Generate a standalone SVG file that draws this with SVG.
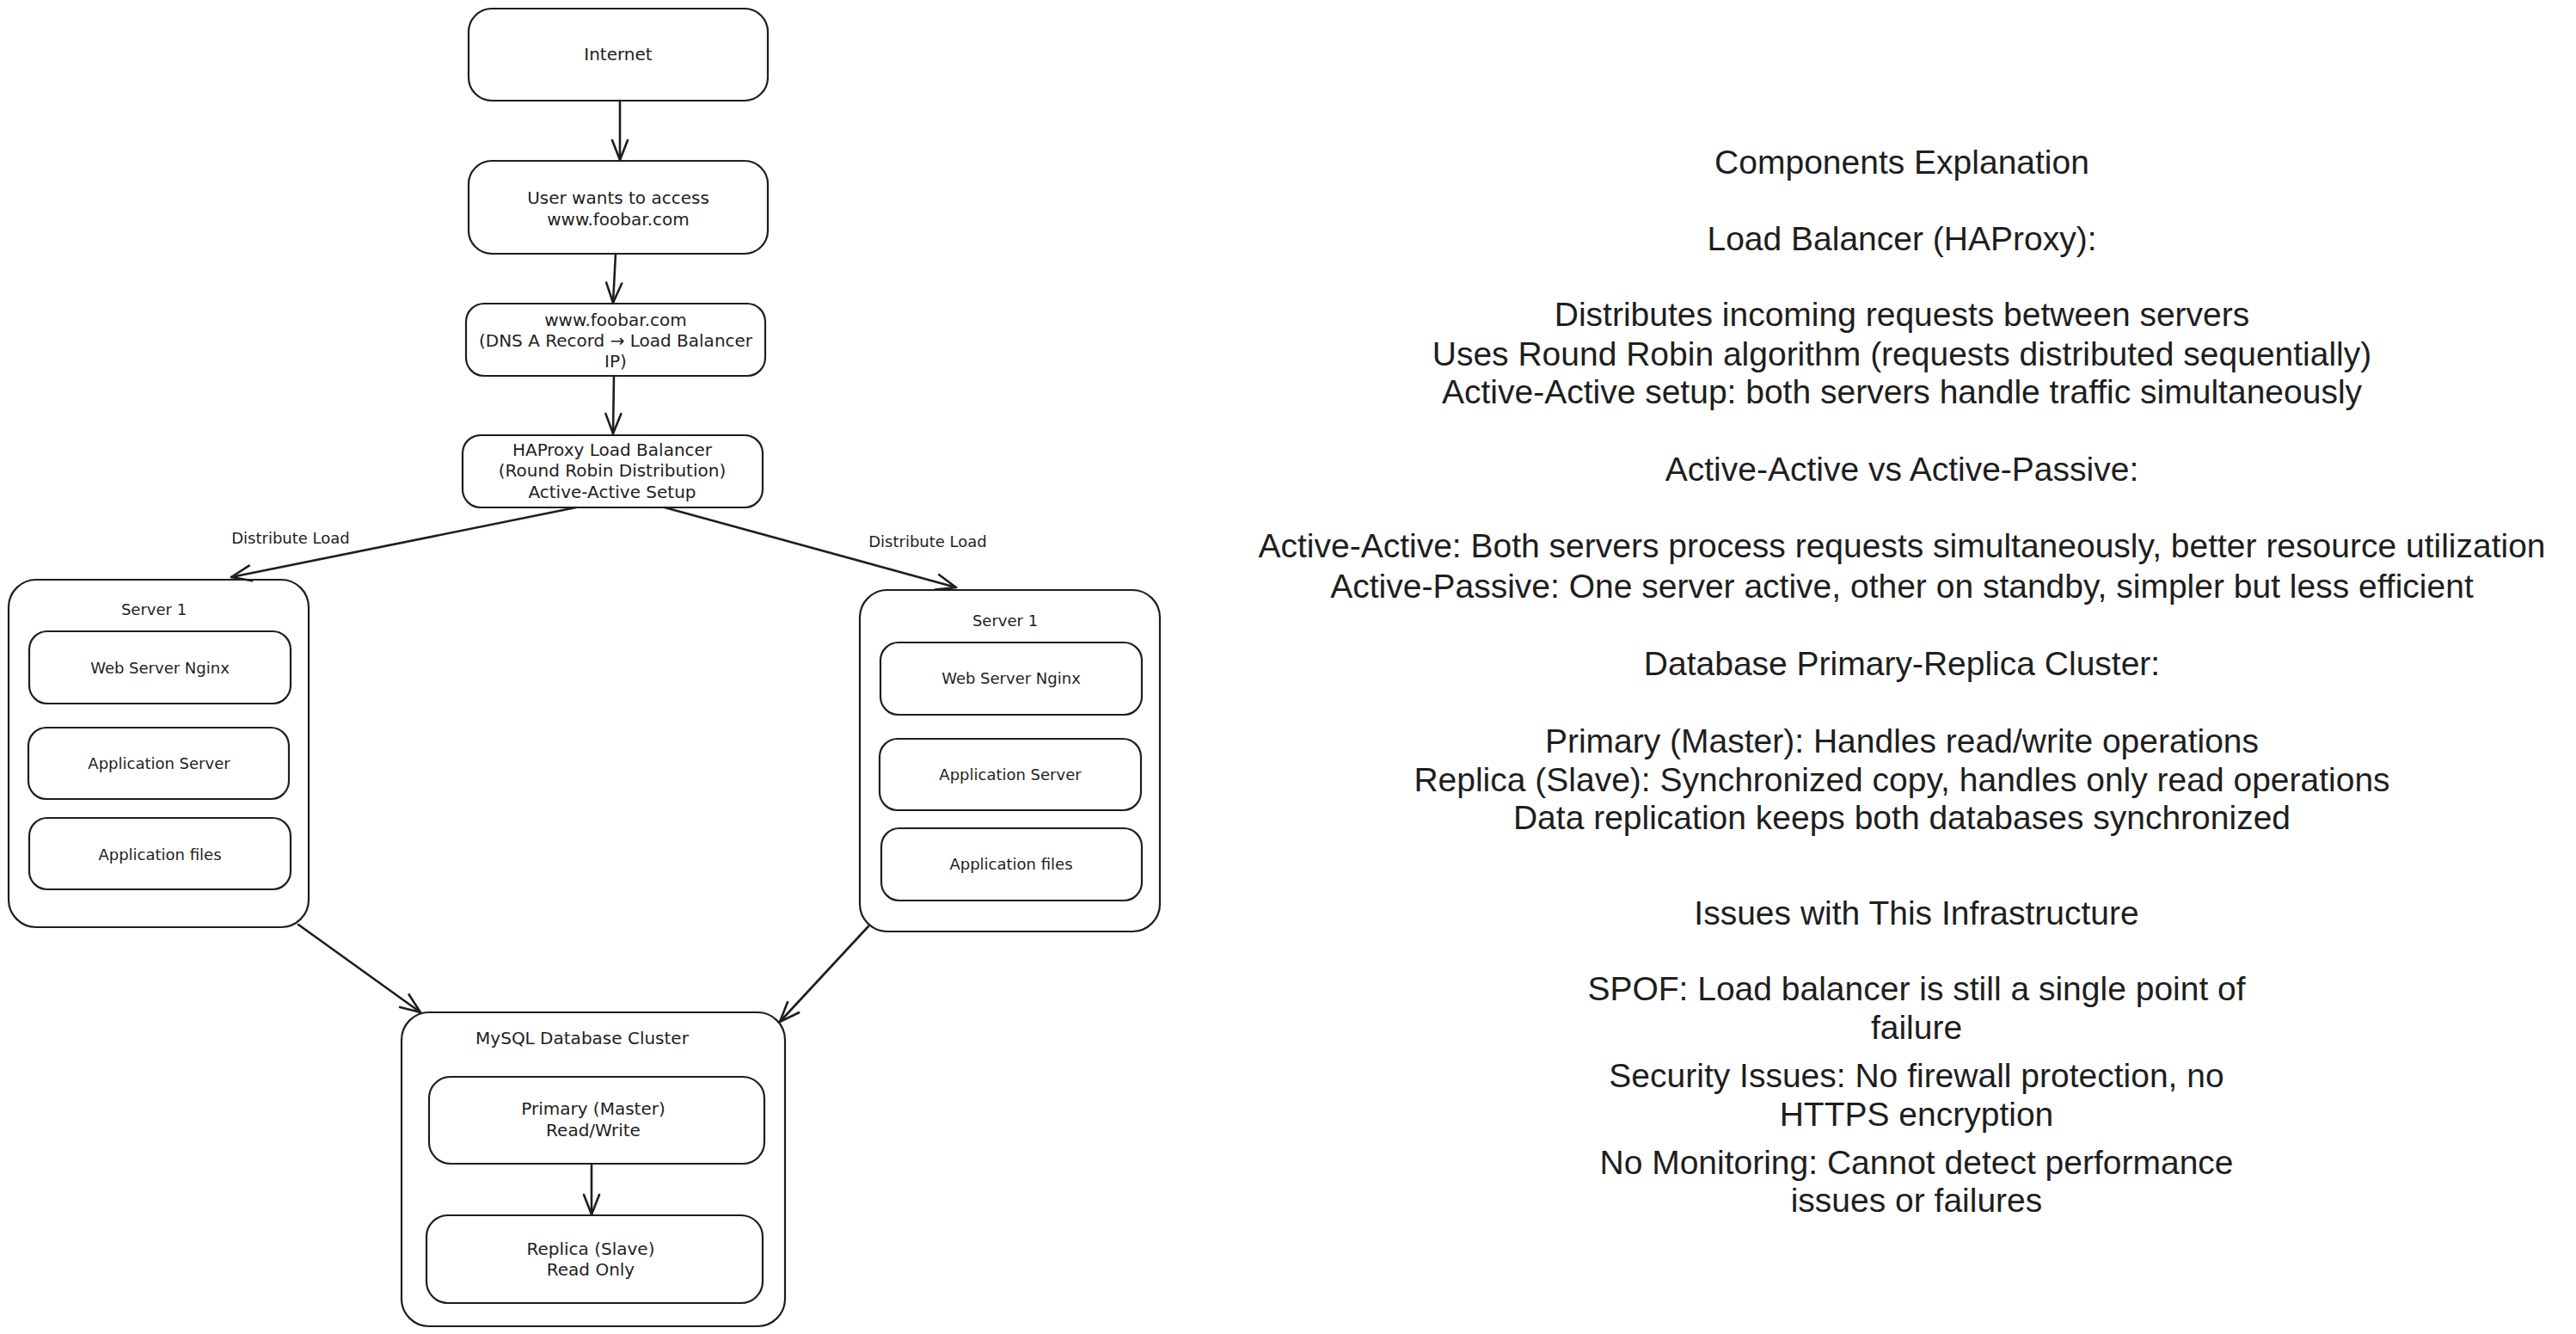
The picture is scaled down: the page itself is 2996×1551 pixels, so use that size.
<svg xmlns="http://www.w3.org/2000/svg" width="2996" height="1551" viewBox="0 0 2996 1551">
<style>
.box{fill:#ffffff;stroke:#1e1e1e;stroke-width:2.2}
.t{font-family:"DejaVu Sans",sans-serif;font-size:20px;fill:#1e1e1e;text-anchor:middle;dominant-baseline:central}
.ts{font-family:"DejaVu Sans",sans-serif;font-size:18px;fill:#1e1e1e;text-anchor:middle;dominant-baseline:central}
.big{font-family:"Liberation Sans",sans-serif;font-size:39px;fill:#1e1e1e;text-anchor:middle;dominant-baseline:central}
.con{fill:none;stroke:#1e1e1e;stroke-width:2.6;stroke-linecap:round}
</style>
<defs>
<marker id="ah" markerUnits="userSpaceOnUse" markerWidth="40" markerHeight="40" viewBox="-30 -20 40 40" refX="0" refY="0" orient="auto">
<path d="M-23,-9 L0,0 L-23,9" fill="none" stroke="#1e1e1e" stroke-width="2.6" stroke-linecap="round" stroke-linejoin="round"/>
</marker>
</defs>
<rect width="2996" height="1551" fill="#ffffff"/>

<g id="internet">
<rect class="box" x="545" y="10" width="348" height="107" rx="27"/>
<text class="t" x="719" y="63">Internet</text>
</g>
<g id="user">
<rect class="box" x="545" y="187" width="348" height="108" rx="27"/>
<text class="t" x="719" y="230">User wants to access</text>
<text class="t" x="719" y="255">www.foobar.com</text>
</g>
<g id="dns">
<rect class="box" x="542" y="353" width="348" height="84" rx="21"/>
<text class="t" x="716" y="372">www.foobar.com</text>
<text class="t" x="716" y="396">(DNS A Record → Load Balancer</text>
<text class="t" x="716" y="420">IP)</text>
</g>
<g id="haproxy">
<rect class="box" x="538" y="506" width="349" height="84" rx="21"/>
<text class="t" x="712" y="523">HAProxy Load Balancer</text>
<text class="t" x="712" y="547">(Round Robin Distribution)</text>
<text class="t" x="712" y="572">Active-Active Setup</text>
</g>

<g id="server-left">
<rect class="box" x="10" y="674" width="349" height="404" rx="32"/>
<text class="ts" x="179" y="708">Server 1</text>
<g id="server-left-web">
<rect class="box" x="34" y="734" width="304" height="84" rx="21"/>
<text class="ts" x="186" y="776">Web Server Nginx</text>
</g>
<g id="server-left-app">
<rect class="box" x="33" y="846" width="303" height="83" rx="21"/>
<text class="ts" x="185" y="887">Application Server</text>
</g>
<g id="server-left-files">
<rect class="box" x="34" y="951" width="304" height="83" rx="21"/>
<text class="ts" x="186" y="993">Application files</text>
</g>
</g>

<g id="server-right">
<rect class="box" x="1000" y="686" width="349" height="397" rx="32"/>
<text class="ts" x="1169" y="721">Server 1</text>
<g id="server-right-web">
<rect class="box" x="1024" y="747" width="304" height="84" rx="21"/>
<text class="ts" x="1176" y="788">Web Server Nginx</text>
</g>
<g id="server-right-app">
<rect class="box" x="1023" y="859" width="304" height="83" rx="21"/>
<text class="ts" x="1175" y="900">Application Server</text>
</g>
<g id="server-right-files">
<rect class="box" x="1025" y="963" width="303" height="84" rx="21"/>
<text class="ts" x="1176" y="1004">Application files</text>
</g>
</g>

<g id="db-cluster">
<rect class="box" x="467" y="1177" width="446" height="365" rx="32"/>
<text class="t" x="677" y="1207">MySQL Database Cluster</text>
<g id="db-primary">
<rect class="box" x="499" y="1252" width="390" height="101" rx="25"/>
<text class="t" x="690" y="1289">Primary (Master)</text>
<text class="t" x="690" y="1314">Read/Write</text>
</g>
<g id="db-replica">
<rect class="box" x="496" y="1413" width="391" height="102" rx="25"/>
<text class="t" x="687" y="1452">Replica (Slave)</text>
<text class="t" x="687" y="1476">Read Only</text>
</g>
</g>

<g id="connectors">
<path class="con" d="M721,117 L721,186" marker-end="url(#ah)"/>
<path class="con" d="M716,295 L713,352" marker-end="url(#ah)"/>
<path class="con" d="M714,437 L713,504" marker-end="url(#ah)"/>
<path class="con" d="M670,590 L269,671" marker-end="url(#ah)"/>
<path class="con" d="M773,590 L1112,683" marker-end="url(#ah)"/>
<path class="con" d="M347,1075 L489,1177" marker-end="url(#ah)"/>
<path class="con" d="M1010,1077 L907,1188" marker-end="url(#ah)"/>
<path class="con" d="M688,1353 L688,1412" marker-end="url(#ah)"/>
<text class="ts" x="338" y="625">Distribute Load</text>
<text class="ts" x="1079" y="629">Distribute Load</text>
</g>

<g id="explanation">
<text class="big" x="2212" y="188">Components Explanation</text>
<text class="big" x="2212" y="277">Load Balancer (HAProxy):</text>
<text class="big" x="2212" y="365">Distributes incoming requests between servers</text>
<text class="big" x="2212" y="411">Uses Round Robin algorithm (requests distributed sequentially)</text>
<text class="big" x="2212" y="455">Active-Active setup: both servers handle traffic simultaneously</text>
<text class="big" x="2212" y="545">Active-Active vs Active-Passive:</text>
<text class="big" x="2212" y="634">Active-Active: Both servers process requests simultaneously, better resource utilization</text>
<text class="big" x="2212" y="681">Active-Passive: One server active, other on standby, simpler but less efficient</text>
<text class="big" x="2212" y="771">Database Primary-Replica Cluster:</text>
<text class="big" x="2212" y="861">Primary (Master): Handles read/write operations</text>
<text class="big" x="2212" y="906">Replica (Slave): Synchronized copy, handles only read operations</text>
<text class="big" x="2212" y="950">Data replication keeps both databases synchronized</text>
</g>
<g id="issues">
<text class="big" x="2229" y="1061">Issues with This Infrastructure</text>
<text class="big" x="2229" y="1149">SPOF: Load balancer is still a single point of</text>
<text class="big" x="2229" y="1194">failure</text>
<text class="big" x="2229" y="1250">Security Issues: No firewall protection, no</text>
<text class="big" x="2229" y="1295">HTTPS encryption</text>
<text class="big" x="2229" y="1351">No Monitoring: Cannot detect performance</text>
<text class="big" x="2229" y="1395">issues or failures</text>
</g>
</svg>
